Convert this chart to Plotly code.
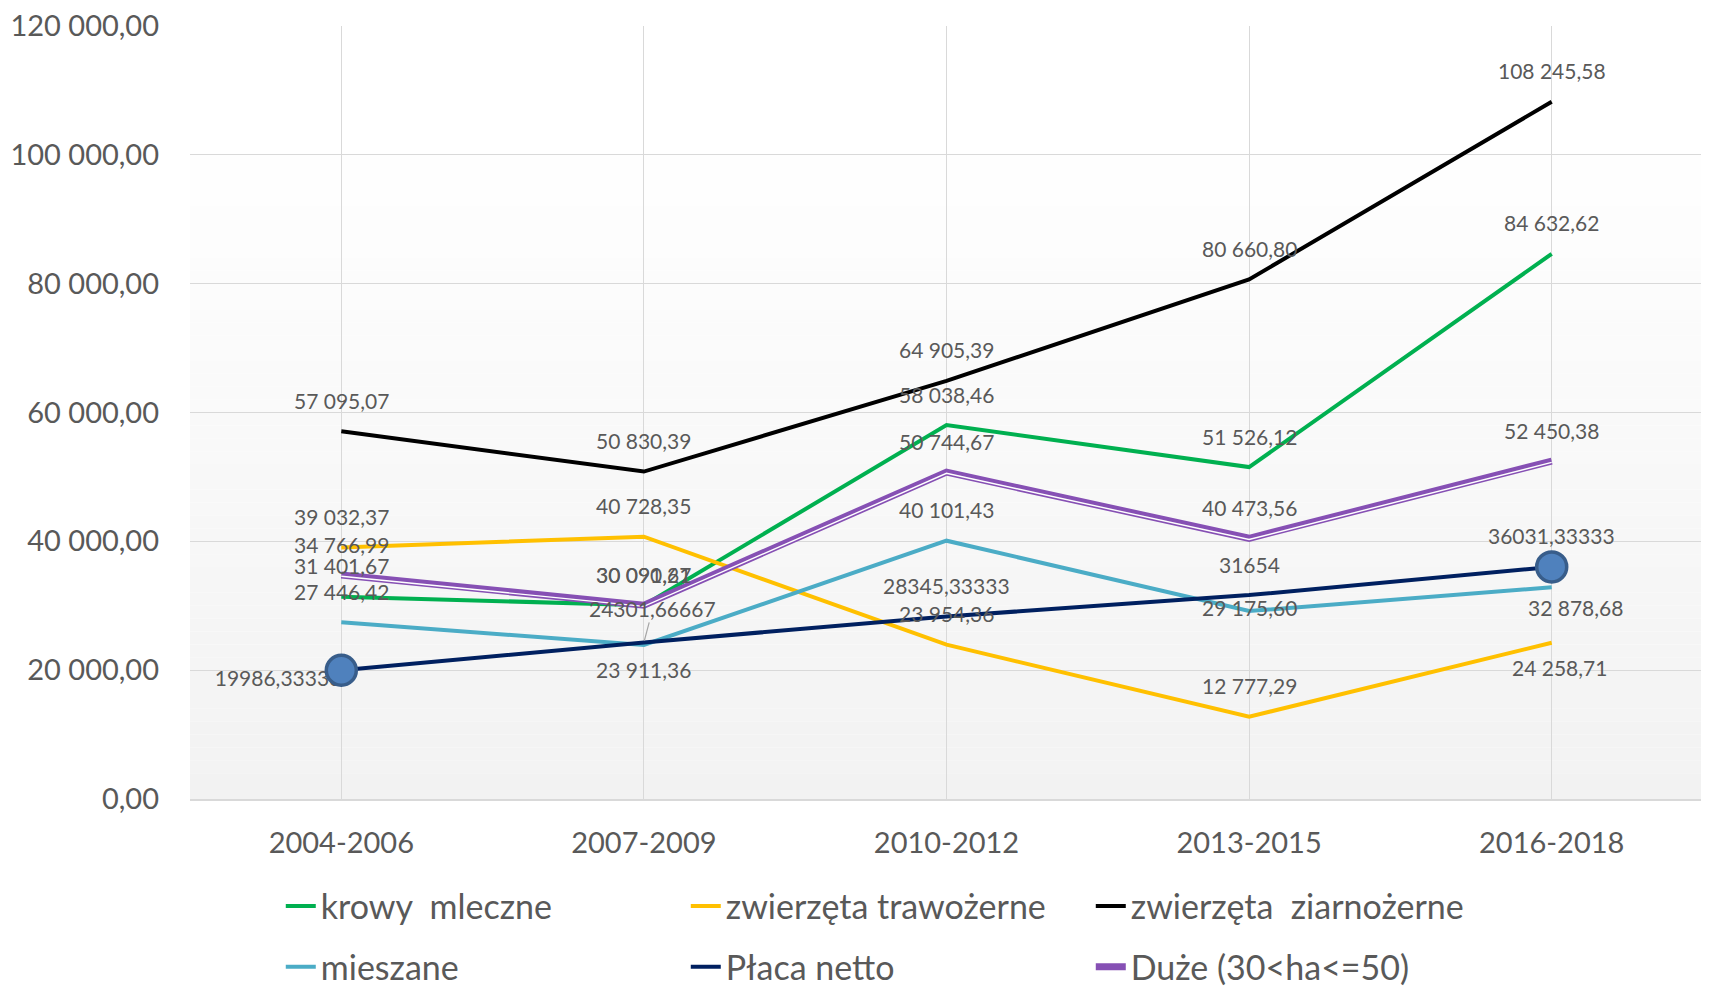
import plotly.graph_objects as go

# ---------------- data ----------------
categories = ["2004-2006", "2007-2009", "2010-2012", "2013-2015", "2016-2018"]

krowy_mleczne = [31401.67, 30090.67, 58038.46, 51526.12, 84632.62]
zwierzeta_trawozerne = [39032.37, 40728.35, 23954.36, 12777.29, 24258.71]
zwierzeta_ziarnozerne = [57095.07, 50830.39, 64905.39, 80660.80, 108245.58]
mieszane = [27446.42, 23911.36, 40101.43, 29175.60, 32878.68]
placa_netto = [19986.33333, 24301.66667, 28345.33333, 31654, 36031.33333]
duze = [34766.99, 30091.21, 50744.67, 40473.56, 52450.38]

labels_krowy = ["31 401,67", "30 090,67", "58 038,46", "51 526,12", "84 632,62"]
labels_traw = ["39 032,37", "40 728,35", "23 954,36", "12 777,29", "24 258,71"]
labels_ziarn = ["57 095,07", "50 830,39", "64 905,39", "80 660,80", "108 245,58"]
labels_miesz = ["27 446,42", "23 911,36", "40 101,43", "29 175,60", "32 878,68"]
labels_placa = ["19986,33333", "24301,66667", "28345,33333", "31654", "36031,33333"]
labels_duze = ["34 766,99", "30 091,21", "50 744,67", "40 473,56", "52 450,38"]

y_tickvals = [0, 20000, 40000, 60000, 80000, 100000, 120000]
y_ticktext = ["0,00", "20 000,00", "40 000,00", "60 000,00", "80 000,00", "100 000,00", "120 000,00"]

# ---------------- style ----------------
FONT = "Lato"
TXT = "#595959"
GRID = "#d9d9d9"
LBL_SIZE = 21

series = [
    ("krowy  mleczne", krowy_mleczne, labels_krowy, "#00B050", "legend"),
    ("zwierzęta trawożerne", zwierzeta_trawozerne, labels_traw, "#FFC000", "legend"),
    ("zwierzęta  ziarnożerne", zwierzeta_ziarnozerne, labels_ziarn, "#000000", "legend"),
    ("mieszane", mieszane, labels_miesz, "#4BACC6", "legend2"),
    ("Płaca netto", placa_netto, labels_placa, "#002060", "legend2"),
    ("Duże (30<ha<=50)", duze, labels_duze, "#8650B4", "legend2"),
]

# label offsets (xshift, yshift) in px; default is above the point
default_off = (0, 31)
special_off = {
    ("mieszane", 1): (0, -25),
    ("mieszane", 3): (0, 4),
    ("mieszane", 4): (24, -20),
    ("zwierzęta trawożerne", 4): (8, -25),
}

fig = go.Figure()

for name, vals, labs, color, lg in series:
    width = 4
    if name.startswith("Duże"):
        width = 7
    fig.add_trace(go.Scatter(
        x=categories, y=vals, mode="lines", name=name,
        line=dict(color=color, width=width), legend=lg,
        hoverinfo="skip",
    ))
    if name.startswith("Duże"):
        # inner white stripe of the compound line
        fig.add_trace(go.Scatter(
            x=categories, y=vals, mode="lines", showlegend=False,
            line=dict(color="white", width=1.4), yaxis="y2", hoverinfo="skip",
        ))

# Płaca netto: first label sits left of the point, behind the marker
fig.add_trace(go.Scatter(
    x=categories[:1], y=placa_netto[:1], mode="text", text=labels_placa[:1],
    textposition="bottom left", showlegend=False,
    textfont=dict(family=FONT, size=LBL_SIZE, color=TXT), hoverinfo="skip",
))

# Płaca netto markers at the ends
fig.add_trace(go.Scatter(
    x=[categories[0], categories[-1]], y=[placa_netto[0], placa_netto[-1]],
    mode="markers", showlegend=False, hoverinfo="skip",
    marker=dict(size=30, color="#4F81BD", line=dict(color="#385D8A", width=3.5)),
))

annotations = []
for name, vals, labs, color, lg in series:
    for i, (c, v, t) in enumerate(zip(categories, vals, labs)):
        if name == "Płaca netto" and i == 0:
            continue
        if name == "Płaca netto" and i == 1:
            annotations.append(dict(
                x=c, y=v, text=t, showarrow=True, arrowhead=0, arrowwidth=1.2,
                arrowcolor="#a6a6a6", ax=9, ay=-34, standoff=2,
                font=dict(family=FONT, size=LBL_SIZE, color=TXT),
            ))
            continue
        xs, ys = special_off.get((name, i), default_off)
        annotations.append(dict(
            x=c, y=v, text=t, showarrow=False, xshift=xs, yshift=ys,
            xanchor="center", yanchor="middle",
            font=dict(family=FONT, size=LBL_SIZE, color=TXT),
        ))

# gradient background of the plot area (white at top -> light grey at bottom)
shapes = []
n = 60
for k in range(n):
    f = (k + 0.5) / n  # 0 at bottom, 1 at top
    g = round(242 + (255 - 242) * min(1.0, f * 1.15))
    shapes.append(dict(
        type="rect", xref="x domain", yref="y domain",
        x0=0, x1=1, y0=k / n, y1=(k + 1) / n,
        fillcolor=f"rgb({g},{g},{g})", line=dict(width=0), layer="below",
    ))

LEG_FONT = dict(family=FONT, size=34, color=TXT)

fig.update_layout(
    width=1709, height=996,
    margin=dict(l=182, r=14, t=18, b=205, autoexpand=False),
    paper_bgcolor="white", plot_bgcolor="white",
    font=dict(family=FONT, color=TXT),
    showlegend=True,
    legend=dict(
        orientation="h", x=0.060, xanchor="left", y=-0.139, yanchor="middle",
        entrywidth=360, font=LEG_FONT, bgcolor="rgba(0,0,0,0)",
    ),
    legend2=dict(
        orientation="h", x=0.060, xanchor="left", y=-0.2175, yanchor="middle",
        entrywidth=360, font=LEG_FONT, bgcolor="rgba(0,0,0,0)",
    ),
    xaxis=dict(
        type="category", range=[-0.5, 4.5], automargin=False,
        showgrid=True, gridcolor=GRID, gridwidth=1.3,
        showline=True, linecolor=GRID, linewidth=1.5, ticks="",
        tickfont=dict(family=FONT, size=29, color=TXT), ticklabelstandoff=17,
    ),
    yaxis=dict(
        range=[0, 120000], tickvals=y_tickvals, ticktext=y_ticktext,
        automargin=False, ticklabeloverflow="allow",
        showgrid=True, gridcolor=GRID, gridwidth=1.3, zeroline=False,
        showline=False, ticks="",
        tickfont=dict(family=FONT, size=29, color=TXT), ticklabelstandoff=30,
    ),
    yaxis2=dict(
        overlaying="y", range=[190, 120190], visible=False,
    ),
    annotations=annotations,
    shapes=shapes,
)

fig.write_html("out.html")
